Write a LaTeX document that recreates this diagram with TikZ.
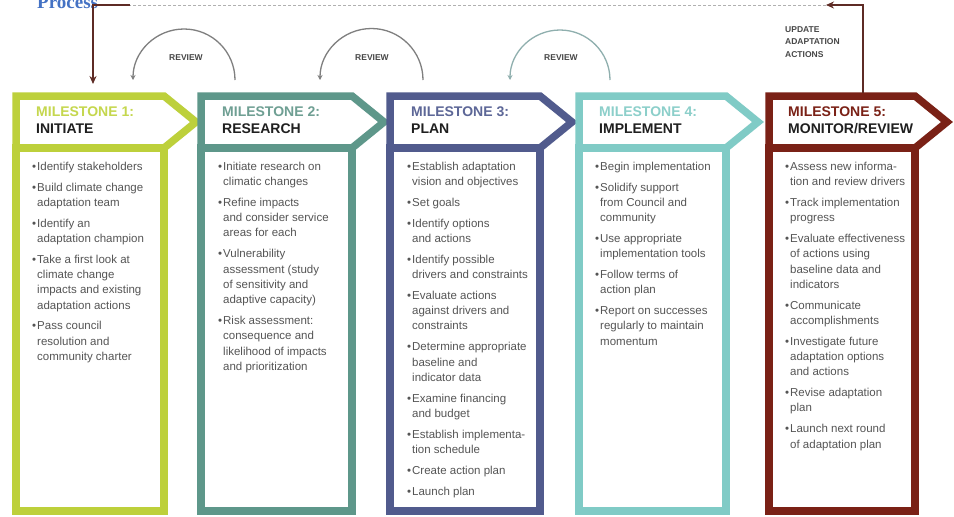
\documentclass[tikz,border=0pt]{standalone}
\usepackage{fontspec}
\setmainfont{Liberation Sans}
\newfontfamily\headingserif{Liberation Serif}
\usetikzlibrary{arrows.meta}

% frame and title colours of the five milestones
\definecolor{limeframe}{HTML}{BDD03B}
\definecolor{limetitle}{HTML}{C5D74E}
\definecolor{tealframe}{HTML}{5E978A}
\definecolor{tealtitle}{HTML}{6F9F93}
\definecolor{slateframe}{HTML}{515B8D}
\definecolor{slatetitle}{HTML}{5D6797}
\definecolor{aquaframe}{HTML}{80CBC6}
\definecolor{aquatitle}{HTML}{8CCFCA}
\definecolor{maroonframe}{HTML}{7A2116}
\definecolor{maroontitle}{HTML}{7A2116}
% other colours
\definecolor{feedbackbrown}{HTML}{5E2B25}
\definecolor{bodygray}{HTML}{555555}
\definecolor{taggray}{HTML}{474747}
\definecolor{loopgray}{HTML}{7F7F7F}
\definecolor{looptealgray}{HTML}{8FAFAE}
\definecolor{dashgray}{HTML}{B0B0B0}
\definecolor{processblue}{HTML}{4472C4}

% bullet hanging to the left of an item's first line
\newcommand\bul{\leavevmode\strut\llap{\textbullet\hspace{1pt}}}

\tikzset{
  frame/.style={line width=7.5pt, line join=miter},
  headtext/.style={anchor=north west, align=left, inner sep=0pt,
    font=\bfseries\fontsize{14}{17}\selectfont, text=black!88},
  bodytext/.style={anchor=north west, align=left, inner sep=0pt,
    font=\fontsize{11.5}{15.3}\selectfont, text=bodygray},
  looptag/.style={inner sep=0pt, align=left,
    font=\bfseries\fontsize{8.5}{12.5}\selectfont, text=taggray},
  reviewarc/.style={line width=1.3pt, -{Stealth[length=5pt,width=5pt]}},
  feedback/.style={line width=2.5pt, draw=feedbackbrown,
    -{Stealth[length=8pt,width=7pt]}},
  dashedtrack/.style={draw=dashgray, line width=0.8pt, dash pattern=on 3pt off 2pt},
}

\begin{document}
\begin{tikzpicture}[x=1pt,y=-1pt]
\fill[white] (0,0) rectangle (954,517);
\useasboundingbox (0,0) rectangle (954,517);

% heading, partly above the page edge
\node[anchor=base west, inner sep=0pt, text=processblue,
  font=\headingserif\bfseries\fontsize{19}{22}\selectfont] (proc) at (37,8) {Process};

% milestone frames: arrow-shaped header above a tall list box
\foreach \L/\R/\c in {16/164/limeframe, 201/352/tealframe, 390/540/slateframe,
                      579/726/aquaframe, 769/915/maroonframe}{
  \draw[frame, draw=\c] (\L,96) -- (\R,96) -- ({\R+32},122) -- (\R,148) -- (\L,148) -- cycle;
  \draw[frame, draw=\c] (\L,148) rectangle (\R,511);
}

% header texts
\node[headtext] (h1) at (36,106.6) {{\color{limetitle}MILESTONE 1:}\\INITIATE};
\node[headtext] (h2) at (222,106.6) {{\color{tealtitle}MILESTONE 2:}\\RESEARCH};
\node[headtext] (h3) at (411,106.6) {{\color{slatetitle}MILESTONE 3:}\\PLAN};
\node[headtext] (h4) at (599,106.6) {{\color{aquatitle}MILESTONE 4:}\\IMPLEMENT};
\node[headtext] (h5) at (788,106.6) {{\color{maroontitle}MILESTONE 5:}\\MONITOR/REVIEW};

% task lists
\node[bodytext] (b1) at (37,159.3) {%
\bul Identify stakeholders\\[5.5pt]
\bul Build climate change\\adaptation team\\[5.5pt]
\bul Identify an\\adaptation champion\\[5.5pt]
\bul Take a first look at\\climate change\\impacts and existing\\adaptation actions\\[5.5pt]
\bul Pass council\\resolution and\\community charter};

\node[bodytext] (b2) at (223,159.3) {%
\bul Initiate research on\\climatic changes\\[5.5pt]
\bul Refine impacts\\and consider service\\areas for each\\[5.5pt]
\bul Vulnerability\\assessment (study\\of sensitivity and\\adaptive capacity)\\[5.5pt]
\bul Risk assessment:\\consequence and\\likelihood of impacts\\and prioritization};

\node[bodytext] (b3) at (412,159.3) {%
\bul Establish adaptation\\vision and objectives\\[5.5pt]
\bul Set goals\\[5.5pt]
\bul Identify options\\and actions\\[5.5pt]
\bul Identify possible\\drivers and constraints\\[5.5pt]
\bul Evaluate actions\\against drivers and\\constraints\\[5.5pt]
\bul Determine appropriate\\baseline and\\indicator data\\[5.5pt]
\bul Examine financing\\and budget\\[5.5pt]
\bul Establish implementa-\\tion schedule\\[5.5pt]
\bul Create action plan\\[5.5pt]
\bul Launch plan};

\node[bodytext] (b4) at (600,159.3) {%
\bul Begin implementation\\[5.5pt]
\bul Solidify support\\from Council and\\community\\[5.5pt]
\bul Use appropriate\\implementation tools\\[5.5pt]
\bul Follow terms of\\action plan\\[5.5pt]
\bul Report on successes\\regularly to maintain\\momentum};

\node[bodytext] (b5) at (790,159.3) {%
\bul Assess new informa-\\tion and review drivers\\[5.5pt]
\bul Track implementation\\progress\\[5.5pt]
\bul Evaluate effectiveness\\of actions using\\baseline data and\\indicators\\[5.5pt]
\bul Communicate\\accomplishments\\[5.5pt]
\bul Investigate future\\adaptation options\\and actions\\[5.5pt]
\bul Revise adaptation\\plan\\[5.5pt]
\bul Launch next round\\of adaptation plan};

% review loops from each milestone back to the one before
\coordinate (rev1from) at (235,80);  \coordinate (rev1to) at (133,80);
\coordinate (rev2from) at (423,80);  \coordinate (rev2to) at (320,80);
\coordinate (rev3from) at (610,80);  \coordinate (rev3to) at (510,80);
\draw[reviewarc, draw=loopgray] (rev1from) .. controls (235,51.8) and (212.2,29) .. (184,29)
  .. controls (155.8,29) and (133,51.8) .. (rev1to);
\draw[reviewarc, draw=loopgray] (rev2from) .. controls (423,51.6) and (399.9,28.5) .. (371.5,28.5)
  .. controls (343.1,28.5) and (320,51.6) .. (rev2to);
\draw[reviewarc, draw=looptealgray] (rev3from) .. controls (610,52.4) and (587.6,30) .. (560,30)
  .. controls (532.4,30) and (510,52.4) .. (rev3to);
\node[looptag] (rv1) at (186,58) {REVIEW};
\node[looptag] (rv2) at (372,58) {REVIEW};
\node[looptag] (rv3) at (561,58) {REVIEW};

% update loop from milestone 5 back to milestone 1
\coordinate (fbup) at (863,92.5);
\coordinate (fbcorner) at (863,5);
\coordinate (fbhead) at (826,5);
\coordinate (fbdashend) at (130,5);
\coordinate (fbleft) at (93,5);
\coordinate (fbdown) at (93,84);
\draw[feedback] (fbup) -- (fbcorner) -- (fbhead);
\draw[dashedtrack] (fbhead) -- (fbdashend);
\draw[feedback] (fbdashend) -- (fbleft) -- (fbdown);
\node[looptag, anchor=north west] (upd) at (785,26) {UPDATE\\ADAPTATION\\ACTIONS};
\end{tikzpicture}
\end{document}
